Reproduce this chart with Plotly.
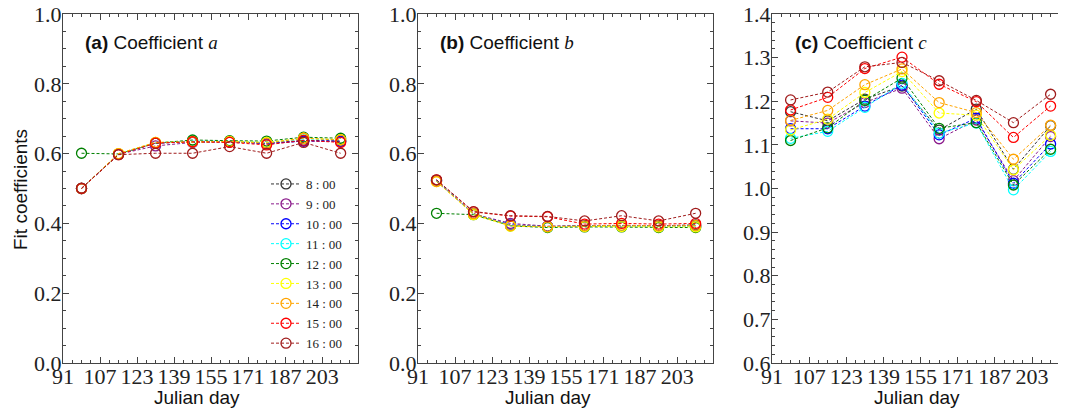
import plotly.graph_objects as go

days = [99, 115, 131, 147, 163, 179, 195, 211]
hours = ["8 : 00", "9 : 00", "10 : 00", "11 : 00", "12 : 00", "13 : 00", "14 : 00", "15 : 00", "16 : 00"]
colors = ["#333333", "#8b1a8b", "#0000ff", "#00ffff", "#008000", "#ffff00", "#ffa500", "#ff0000", "#a01c1c"]

coef_a = [
    [0.500, 0.598, 0.630, 0.634, 0.634, 0.630, 0.638, 0.636],
    [0.500, 0.598, 0.622, 0.632, 0.634, 0.629, 0.636, 0.635],
    [0.500, 0.598, 0.630, 0.634, 0.634, 0.628, 0.636, 0.636],
    [0.500, 0.598, 0.631, 0.636, 0.635, 0.632, 0.642, 0.640],
    [0.601, 0.599, 0.630, 0.639, 0.637, 0.636, 0.647, 0.644],
    [0.500, 0.600, 0.632, 0.634, 0.635, 0.632, 0.644, 0.640],
    [0.500, 0.600, 0.632, 0.634, 0.634, 0.630, 0.644, 0.639],
    [0.500, 0.597, 0.630, 0.634, 0.632, 0.625, 0.638, 0.632],
    [0.501, 0.597, 0.601, 0.601, 0.620, 0.601, 0.632, 0.601],
]
coef_b = [
    [0.522, 0.428, 0.394, 0.391, 0.393, 0.393, 0.393, 0.396],
    [0.522, 0.427, 0.400, 0.392, 0.393, 0.393, 0.393, 0.393],
    [0.522, 0.427, 0.396, 0.391, 0.393, 0.393, 0.392, 0.392],
    [0.522, 0.427, 0.394, 0.390, 0.392, 0.392, 0.390, 0.391],
    [0.429, 0.425, 0.393, 0.388, 0.390, 0.390, 0.388, 0.388],
    [0.520, 0.425, 0.392, 0.390, 0.391, 0.391, 0.390, 0.390],
    [0.520, 0.428, 0.394, 0.391, 0.393, 0.395, 0.393, 0.394],
    [0.525, 0.433, 0.421, 0.419, 0.398, 0.400, 0.398, 0.400],
    [0.525, 0.434, 0.422, 0.420, 0.407, 0.422, 0.407, 0.429],
]
coef_c = [
    [1.176, 1.155, 1.205, 1.235, 1.134, 1.182, 1.044, 1.144],
    [1.155, 1.150, 1.197, 1.230, 1.114, 1.157, 1.018, 1.119],
    [1.137, 1.137, 1.189, 1.237, 1.123, 1.161, 1.012, 1.102],
    [1.115, 1.131, 1.186, 1.241, 1.127, 1.150, 0.997, 1.085],
    [1.110, 1.139, 1.202, 1.253, 1.138, 1.151, 1.008, 1.090],
    [1.134, 1.159, 1.220, 1.268, 1.173, 1.168, 1.043, 1.122],
    [1.156, 1.179, 1.238, 1.274, 1.197, 1.174, 1.067, 1.145],
    [1.180, 1.209, 1.275, 1.301, 1.239, 1.199, 1.117, 1.189],
    [1.203, 1.221, 1.279, 1.289, 1.247, 1.202, 1.151, 1.216],
]

x_ticks = [91, 107, 123, 139, 155, 171, 187, 203]
panel_titles = ["(a)", "(b)", "(c)"]
panel_letters = ["a", "b", "c"]

W, H = 1066, 415
OFF = 8  # page offset of the figure in the browser


def px(v):
    return (v - OFF) / W


def py(v):
    return 1 - (v - OFF) / H


fig = go.Figure()

xdoms = [(63, 358), (418, 713), (772, 1068)]
ytop, ybot = 14, 363
ydom = [py(ybot), py(ytop)]

datasets = [coef_a, coef_b, coef_c]
for p, data in enumerate(datasets):
    xa = "x" if p == 0 else f"x{p+1}"
    ya = "y" if p == 0 else f"y{p+1}"
    for i, h in enumerate(hours):
        fig.add_trace(go.Scatter(
            x=days, y=data[i], mode="lines+markers", name=h,
            xaxis=xa, yaxis=ya, showlegend=(p == 0),
            line=dict(color=colors[i], width=1, dash="3px,2px"),
            marker=dict(symbol="circle-open", size=10, color=colors[i],
                        line=dict(width=1.3, color=colors[i])),
        ))

serif = "Liberation Serif"
sans = "Liberation Sans"
axis_common = dict(
    showline=True, linecolor="#444", linewidth=1, mirror="allticks",
    ticks="inside", ticklen=6, tickcolor="#444", tickwidth=1,
    showgrid=False, zeroline=False, automargin=False,
    ticklabeloverflow="allow",
    tickfont=dict(family=serif, size=22, color="#222"),
)
for p in range(3):
    sfx = "" if p == 0 else str(p + 1)
    fig.layout["xaxis" + sfx] = dict(
        axis_common, domain=[px(xdoms[p][0]), min(1.0, px(xdoms[p][1]))],
        range=[91, 218.5], tickmode="array", tickvals=x_ticks,
        anchor="y" + sfx, ticklabelstandoff=-6,
        minor=dict(ticks="inside", ticklen=3, tickcolor="#444", dtick=4, tick0=91),
    )
    if p < 2:
        yr, ydt, ymin = [0, 1.0], 0.2, 0.05
    else:
        yr, ydt, ymin = [0.6, 1.4], 0.1, 0.02
    fig.layout["yaxis" + sfx] = dict(
        axis_common, domain=ydom, range=yr, dtick=ydt, tick0=yr[0],
        tickformat=".1f", anchor="x" + sfx, ticklabelstandoff=-4,
        minor=dict(ticks="inside", ticklen=3, tickcolor="#444", dtick=ymin, tick0=yr[0]),
    )

annotations = []
title_x = [83, 438, 793]
for p in range(3):
    annotations.append(dict(
        xref="paper", yref="paper", x=px(title_x[p]), y=py(43),
        xanchor="left", yanchor="middle", showarrow=False,
        text=f"<b>{panel_titles[p]}</b> Coefficient <i><span style='font-family:{serif}'>{panel_letters[p]}</span></i>",
        font=dict(family=sans, size=19, color="#111"),
    ))
xlab_x = [197, 548, 917]
for p in range(3):
    annotations.append(dict(
        xref="paper", yref="paper", x=px(xlab_x[p]), y=py(397),
        xanchor="center", yanchor="middle", showarrow=False,
        text="Julian day", font=dict(family=sans, size=19, color="#111"),
    ))
annotations.append(dict(
    xref="paper", yref="paper", x=px(20), y=py(190),
    xanchor="center", yanchor="middle", showarrow=False, textangle=-90,
    text="Fit coefficients", font=dict(family=sans, size=19, color="#111"),
))

fig.update_layout(
    width=W, height=H, margin=dict(l=0, r=0, t=0, b=0, autoexpand=False),
    paper_bgcolor="white", plot_bgcolor="white",
    annotations=annotations,
    legend=dict(
        x=px(266), y=py(169), xanchor="left", yanchor="top",
        bgcolor="rgba(0,0,0,0)", borderwidth=0,
        font=dict(family=serif, size=13, color="#222"),
        itemwidth=30, tracegroupgap=0,
    ),
)

fig.write_html("out.html")
